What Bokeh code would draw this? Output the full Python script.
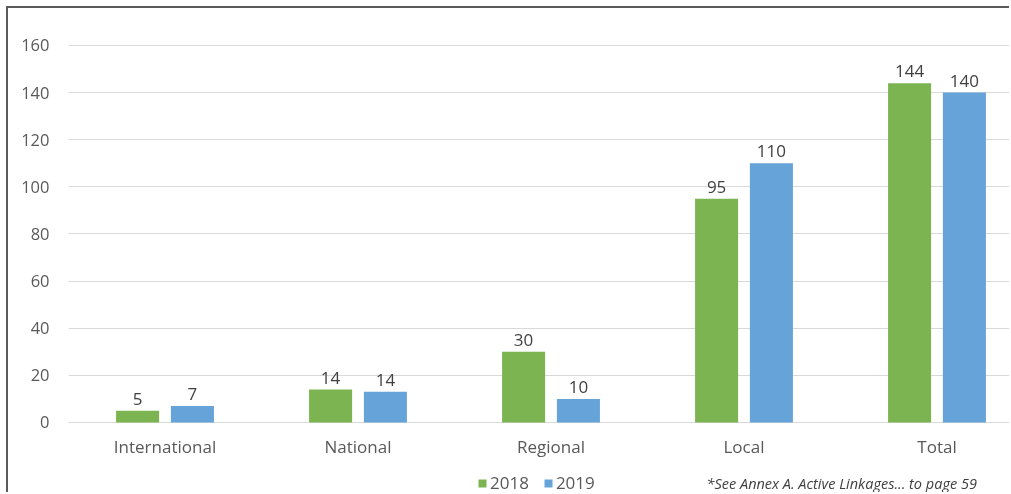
from bokeh.plotting import figure
from bokeh.models import (ColumnDataSource, Range1d, FixedTicker, Legend, LegendItem, Label, LabelSet)
from bokeh.embed import file_html
from bokeh.resources import INLINE
from bokeh.core.properties import value

categories = ["International", "National", "Regional", "Local", "Total"]
series_names = ["2018", "2019"]
values_2018 = [5, 14, 30, 95, 144]
values_2019 = [7, 13, 10, 110, 140]
labels_2018 = ["5", "14", "30", "95", "144"]
labels_2019 = ["7", "14", "10", "110", "140"]
y_ticks = [0, 20, 40, 60, 80, 100, 120, 140, 160]
footnote = "*See Annex A. Active Linkages... to page 59"

GREEN = "#7CB451"
BLUE = "#66A3D9"
TEXT = "#595959"
FONT = "Open Sans"

centers = [i + 0.5 for i in range(len(categories))]
off = 0.142
bw = 0.223

src18 = ColumnDataSource(dict(x=[c - off for c in centers], top=values_2018, lab=labels_2018))
src19 = ColumnDataSource(dict(x=[c + off for c in centers], top=values_2019, lab=labels_2019))
src_cat = ColumnDataSource(dict(x=centers, y=[0] * len(categories), lab=categories))

p = figure(width=1003, height=486, output_backend="svg", toolbar_location=None,
           x_range=Range1d(0, 4.886), y_range=Range1d(-30.56, 162.12),
           x_axis_location=None,
           min_border_left=60, min_border_right=0, min_border_top=32, min_border_bottom=0)
p.styles = {"position": "fixed", "top": "6px", "left": "6px",
            "border-left": "2px solid #5a5a5a", "border-top": "2px solid #5a5a5a"}
p.outline_line_color = None
p.background_fill_color = "white"
p.border_fill_color = "white"

r18 = p.vbar(x="x", top="top", width=bw, source=src18, fill_color=GREEN, line_color=None)
r19 = p.vbar(x="x", top="top", width=bw, source=src19, fill_color=BLUE, line_color=None)

for src in (src18, src19):
    ls = LabelSet(x="x", y="top", text="lab", source=src, text_align="center",
                  text_baseline="bottom", y_offset=6, text_font=value(FONT),
                  text_font_size="17px", text_color="#404040")
    p.add_layout(ls)

cat_labels = LabelSet(x="x", y="y", text="lab", source=src_cat, text_align="center",
                      text_baseline="middle", y_offset=-24, text_font=value(FONT),
                      text_font_size="17px", text_color=TEXT)
p.add_layout(cat_labels)

p.yaxis.ticker = FixedTicker(ticks=y_ticks)
p.yaxis.major_tick_line_color = None
p.yaxis.minor_tick_line_color = None
p.yaxis.axis_line_color = None
p.yaxis.major_label_text_font = FONT
p.yaxis.major_label_text_font_size = "16.5px"
p.yaxis.major_label_text_color = TEXT
p.yaxis.major_label_standoff = 13
p.ygrid.ticker = FixedTicker(ticks=y_ticks)
p.ygrid.grid_line_color = "#d9d9d9"
p.ygrid.grid_line_width = 1
p.xgrid.grid_line_color = None

legend = Legend(items=[LegendItem(label=series_names[0], renderers=[r18]),
                       LegendItem(label=series_names[1], renderers=[r19])],
                orientation="horizontal", location=(409, 0),
                glyph_width=10, glyph_height=10, label_standoff=3, spacing=14,
                label_text_font=FONT, label_text_font_size="17px", label_text_color=TEXT,
                border_line_color=None, background_fill_alpha=0, padding=0, margin=0)
p.add_layout(legend)

note = Label(x=3.306, y=-26.0, text=footnote, text_font=FONT, text_font_size="14.5px",
             text_font_style="italic", text_color="#404040", text_baseline="middle")
p.add_layout(note)

open("out.html", "w").write(file_html(p, INLINE))
